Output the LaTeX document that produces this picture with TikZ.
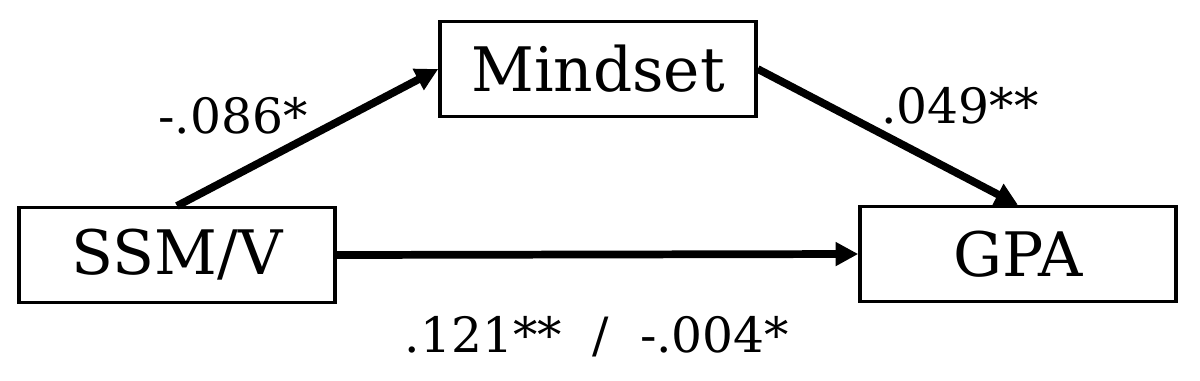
\documentclass[tikz,border=0pt]{standalone}
\usepackage{fontspec}
\setmainfont{DejaVu Serif}
\usetikzlibrary{arrows.meta}
\begin{document}
\begin{tikzpicture}[x=0.75pt,y=-0.75pt,
  varbox/.style={draw,line width=2.6pt,minimum width=237pt,minimum height=71pt,inner sep=0pt,font=\fontsize{46}{50}\selectfont},
  path/.style={line width=5.8pt,-{Triangle[length=17pt,width=17pt]}},
  coef/.style={inner sep=0pt,font=\fontsize{36.5}{40}\selectfont}]
\useasboundingbox (0,0) rectangle (1200,380);
\node[varbox] (mind) at (598,69) {Mindset};
\node[varbox] (ssm) at (177,255) {SSM/V};
\node[varbox] (gpa) at (1018,254) {GPA};
\draw[path] (ssm.north) -- (mind.west);
\draw[path] (mind.east) -- (gpa.north);
\draw[path] (ssm.east) -- (gpa.west);
\node[coef] (a) at (233,116) {-.086*};
\node[coef] (b) at (960,106) {.049**};
\node[coef] (c) at (597,337) {.121**\ \ /\ \ -.004*};
\end{tikzpicture}
\end{document}
